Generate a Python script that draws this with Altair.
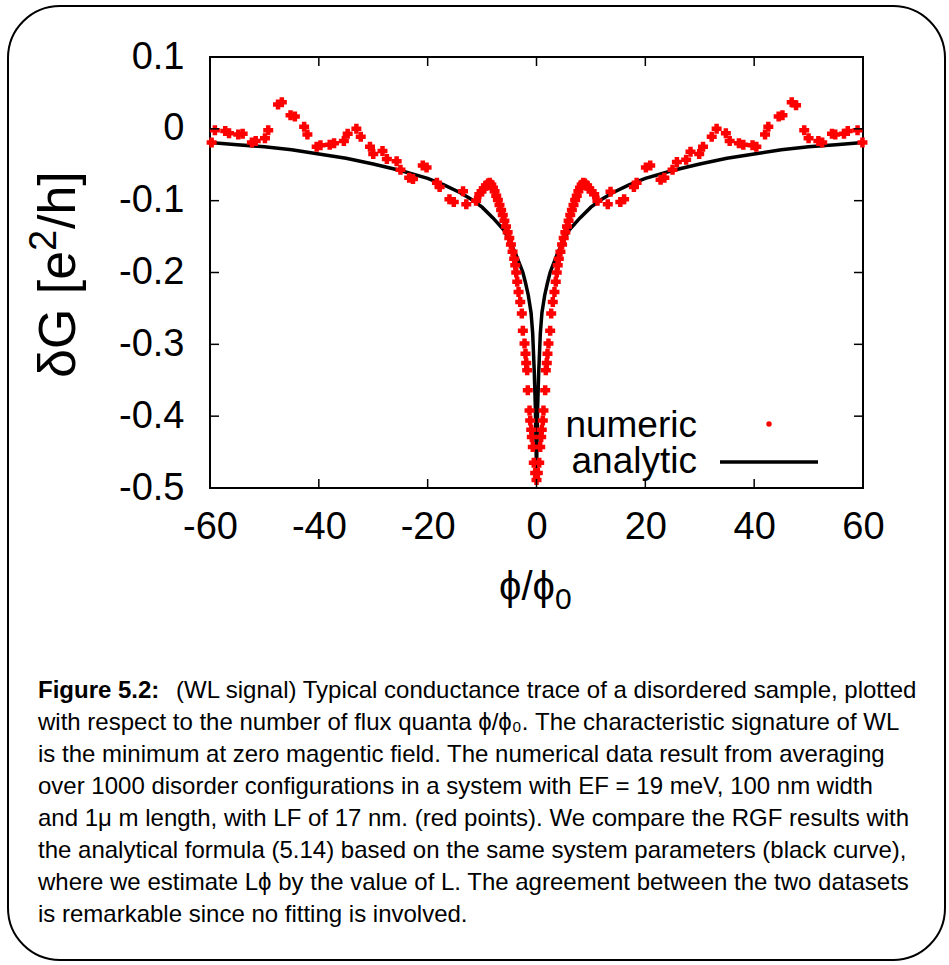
import altair as alt
import pandas as pd

# ---------------- data ----------------
num_left_x = [-59.7, -59.1, -57.2, -56.5, -54.8, -54.0, -52.3, -51.6, -49.9, -49.3,
              -47.5, -46.8, -45.2, -44.4, -42.7, -42.1, -40.4, -39.7, -38.0, -37.2,
              -35.4, -34.7, -33.1, -32.3, -30.6, -30.0, -28.3, -27.5, -25.7, -25.0,
              -23.4, -22.7, -20.9, -20.2, -18.3, -17.8, -16.0, -15.2, -13.5, -12.9,
              -11.1, -10.5]
num_left_y = [-0.019, -0.002, -0.003, -0.006, -0.008, -0.007, -0.019, -0.017, -0.013, -0.002,
              0.034, 0.037, 0.019, 0.017, 0.003, -0.008, -0.025, -0.023, -0.022, -0.020,
              -0.017, -0.007, 0.000, -0.011, -0.025, -0.035, -0.031, -0.042, -0.045, -0.057,
              -0.068, -0.070, -0.051, -0.054, -0.075, -0.081, -0.098, -0.102, -0.087, -0.105,
              -0.100, -0.091]

num_cl_x = [-10.1, -9.7, -9.3, -8.9, -8.6, -8.3, -8.0, -7.7, -7.4, -7.1, -6.8, -6.5,
            -6.2, -5.9, -5.6, -5.3, -5.0, -4.7, -4.4, -4.1, -3.9, -3.72, -3.54, -3.30,
            -2.99, -2.70, -2.51, -2.20, -2.02, -1.89, -1.71, -1.60, -1.28, -1.16, -0.97,
            -0.86, -0.68, -0.50, -0.24]
num_cl_y = [-0.087, -0.083, -0.079, -0.076, -0.075, -0.078, -0.082, -0.087, -0.093, -0.099,
            -0.106, -0.113, -0.120, -0.128, -0.136, -0.144, -0.152, -0.161, -0.171, -0.181,
            -0.190, -0.200, -0.213, -0.227, -0.241, -0.257, -0.281, -0.299, -0.313, -0.326,
            -0.336, -0.364, -0.392, -0.406, -0.419, -0.429, -0.443, -0.465, -0.479]

num_mid_x = [0.0]
num_mid_y = [-0.489]

num_cr_x = [0.24, 0.50, 0.68, 0.86, 0.97, 1.16, 1.28, 1.60, 1.71, 1.89, 2.02, 2.20, 2.51,
            2.70, 2.99, 3.30, 3.54, 3.72, 3.9, 4.1, 4.4, 4.7, 5.0, 5.3, 5.6, 5.9, 6.2, 6.5,
            6.8, 7.1, 7.4, 7.7, 8.0, 8.3, 8.6, 8.9, 9.3, 9.7, 10.1]
num_cr_y = [-0.479, -0.465, -0.443, -0.429, -0.419, -0.406, -0.392, -0.364, -0.336, -0.326,
            -0.313, -0.299, -0.281, -0.257, -0.241, -0.227, -0.213, -0.200, -0.190, -0.181,
            -0.171, -0.161, -0.152, -0.144, -0.136, -0.128, -0.120, -0.113, -0.106, -0.099,
            -0.093, -0.087, -0.082, -0.078, -0.075, -0.076, -0.079, -0.083, -0.087]

num_right_x = [10.6, 11.2, 13.1, 13.6, 15.4, 16.1, 17.9, 18.4, 20.1, 20.9, 22.8, 23.5,
               25.0, 25.8, 27.5, 28.3, 29.9, 30.6, 32.2, 33.1, 34.8, 35.5, 37.2, 38.0,
               39.7, 40.4, 42.0, 42.6, 44.5, 45.2, 46.9, 47.7, 49.2, 50.0, 51.8, 52.5,
               54.3, 54.9, 56.5, 57.2, 59.0, 59.9]
num_right_y = [-0.091, -0.100, -0.105, -0.0875, -0.102, -0.098, -0.081, -0.075, -0.054, -0.051,
               -0.071, -0.068, -0.057, -0.046, -0.043, -0.032, -0.035, -0.025, -0.011, 0.000,
               -0.006, -0.017, -0.020, -0.022, -0.023, -0.025, -0.008, 0.003, 0.017, 0.019,
               0.037, 0.033, -0.002, -0.013, -0.017, -0.019, -0.007, -0.008, -0.007, -0.003,
               -0.002, -0.019]

ana_x = [-60, -55, -50, -45, -40, -35, -30, -25, -20, -17, -14, -12, -10, -8, -6, -5, -4,
         -3, -2.5, -2, -1.5, -1.0, -0.7, -0.4, -0.2, -0.1, 0,
         0.1, 0.2, 0.4, 0.7, 1.0, 1.5, 2, 2.5, 3, 4, 5, 6, 8, 10, 12, 14, 17, 20, 25, 30,
         35, 40, 45, 50, 55, 60]
ana_y = [-0.019, -0.022, -0.025, -0.029, -0.035, -0.041, -0.049, -0.058, -0.069, -0.078,
         -0.089, -0.098, -0.109, -0.124, -0.141, -0.155, -0.171, -0.190, -0.200, -0.215,
         -0.232, -0.256, -0.285, -0.340, -0.390, -0.430, -0.482,
         -0.430, -0.390, -0.340, -0.285, -0.256, -0.232, -0.215, -0.200, -0.190, -0.171,
         -0.155, -0.141, -0.124, -0.109, -0.098, -0.089, -0.078, -0.069, -0.058, -0.049,
         -0.041, -0.035, -0.029, -0.025, -0.022, -0.019]

x_ticks = [-60, -40, -20, 0, 20, 40, 60]
y_ticks = [-0.5, -0.4, -0.3, -0.2, -0.1, 0.0, 0.1]

legend_labels = ["numeric", "analytic"]
x_title = "\u03d5/\u03d5"
x_title_sub = "0"
y_title_parts = ["\u03b4G [e", "2", "/h]"]

caption_bold = "Figure 5.2:"
caption_lines = [
    "(WL signal) Typical conductance trace of a disordered sample, plotted",
    "with respect to the number of flux quanta \u03d5/\u03d5\u2080.  The characteristic signature of WL",
    "is the minimum at zero magentic field.  The numerical data result from averaging",
    "over 1000 disorder configurations in a system with EF = 19 meV, 100 nm width",
    "and 1\u03bc m length, with LF of 17 nm. (red points). We compare the RGF results with",
    "the analytical formula (5.14) based on the same system parameters (black curve),",
    "where we estimate L\u03d5 by the value of L. The agreement between the two datasets",
    "is remarkable since no fitting is involved.",
]

# ---------------- layout ----------------
W, H = 653, 431
PL, PT = 210, 57
FONT = "Liberation Sans"
CAP_FS = 24

num_df = pd.DataFrame({
    "x": num_left_x + num_cl_x + num_mid_x + num_cr_x + num_right_x,
    "y": num_left_y + num_cl_y + num_mid_y + num_cr_y + num_right_y,
})
ana_df = pd.DataFrame({"x": ana_x, "y": ana_y})
xt_df = pd.DataFrame({"t": x_ticks})
yt_df = pd.DataFrame({"t": y_ticks})

xs = alt.Scale(domain=[-60, 60], nice=False, zero=False)
ys = alt.Scale(domain=[-0.5, 0.1], nice=False, zero=False)

x_axis = alt.Axis(values=x_ticks, labelFont=FONT, labelFontSize=38, labelColor="black",
                  ticks=False, tickSize=0, domain=False, grid=False, title=None,
                  labelPadding=20, labelFlush=False, labelExpr="'' + datum.value")
y_axis = alt.Axis(values=y_ticks, labelFont=FONT, labelFontSize=38, labelColor="black",
                  ticks=False, tickSize=0, domain=False, grid=False, title=None,
                  labelPadding=26, labelFlush=False, labelExpr="'' + datum.value")

plus = "M-1,-0.45H-0.45V-1H0.45V-0.45H1V0.45H0.45V1H-0.45V0.45H-1Z"

points = alt.Chart(num_df).mark_point(shape=plus, filled=True, color="#ff0000",
                                      size=100, opacity=1, strokeWidth=0).encode(
    x=alt.X("x:Q", scale=xs, axis=x_axis),
    y=alt.Y("y:Q", scale=ys, axis=y_axis),
)

line = alt.Chart(ana_df).mark_line(color="black", strokeWidth=3.5).encode(
    x=alt.X("x:Q", scale=xs),
    y=alt.Y("y:Q", scale=ys),
)

tick_style = dict(color="black", strokeWidth=1.5)
xb = alt.Chart(xt_df).mark_rule(**tick_style).encode(
    x=alt.X("t:Q", scale=xs), y=alt.value(H), y2=alt.value(H - 9))
xtop = alt.Chart(xt_df).mark_rule(**tick_style).encode(
    x=alt.X("t:Q", scale=xs), y=alt.value(0), y2=alt.value(9))
yl = alt.Chart(yt_df).mark_rule(**tick_style).encode(
    y=alt.Y("t:Q", scale=ys), x=alt.value(0), x2=alt.value(9))
yr = alt.Chart(yt_df).mark_rule(**tick_style).encode(
    y=alt.Y("t:Q", scale=ys), x=alt.value(W), x2=alt.value(W - 9))


def text_layer(txt, x, y, size, align="left", baseline="alphabetic", **kw):
    return alt.Chart(pd.DataFrame({"t": [txt]})).mark_text(
        font=FONT, fontSize=size, align=align, baseline=baseline, color="black", **kw
    ).encode(text="t:N", x=alt.value(x - PL), y=alt.value(y - PT))


# legend (inside plot, lower right)
leg_num = text_layer(legend_labels[0], 697, 437, 37, align="right")
leg_ana = text_layer(legend_labels[1], 697, 473, 37, align="right")
leg_dot = alt.Chart(pd.DataFrame({"t": [0]})).mark_point(
    shape="circle", filled=True, color="#ff0000", size=30, opacity=1, strokeWidth=0).encode(
    x=alt.value(769 - PL), y=alt.value(424 - PT))
leg_line = alt.Chart(pd.DataFrame({"t": [0]})).mark_rule(color="black", strokeWidth=3.5).encode(
    x=alt.value(720 - PL), x2=alt.value(818 - PL), y=alt.value(462 - PT))

# axis titles
xt1 = text_layer(x_title, 527, 600, 40, align="center")
xt2 = text_layer(x_title_sub, 555, 609, 30)
YT_FS, YT_SUP = 52, 38
yt_a = text_layer(y_title_parts[0], 75, 378, YT_FS, angle=270)
yt_b = text_layer(y_title_parts[1], 56, 378 - 127, YT_SUP, angle=270)
yt_c = text_layer(y_title_parts[2], 75, 378 - 127 - 22, YT_FS, angle=270)

# caption
caption_layers = [text_layer(caption_bold, 38, 691, CAP_FS, baseline="middle", fontWeight="bold"),
                  text_layer(caption_lines[0], 176, 691, CAP_FS, baseline="middle")]
for i, ln in enumerate(caption_lines[1:], start=1):
    caption_layers.append(text_layer(ln, 38, 691 + 32 * i, CAP_FS, baseline="middle"))

frame = alt.Chart(pd.DataFrame({"t": [0]})).mark_rect(
    fillOpacity=0, stroke="black", strokeWidth=2, cornerRadius=52).encode(
    x=alt.value(8 - PL), x2=alt.value(945 - PL), y=alt.value(6 - PT), y2=alt.value(960 - PT))

chart = alt.layer(
    frame, line, points, xb, xtop, yl, yr,
    leg_num, leg_ana, leg_dot, leg_line, xt1, xt2, yt_a, yt_b, yt_c,
    *caption_layers,
).properties(
    width=W, height=H,
    autosize=alt.AutoSizeParams(type="none"),
    padding={"left": PL, "top": PT, "right": 949 - PL - W, "bottom": 965 - PT - H},
    background="white",
).configure_view(stroke="black", strokeWidth=2)

chart.save("out.html", embed_options={"renderer": "svg", "actions": False})
